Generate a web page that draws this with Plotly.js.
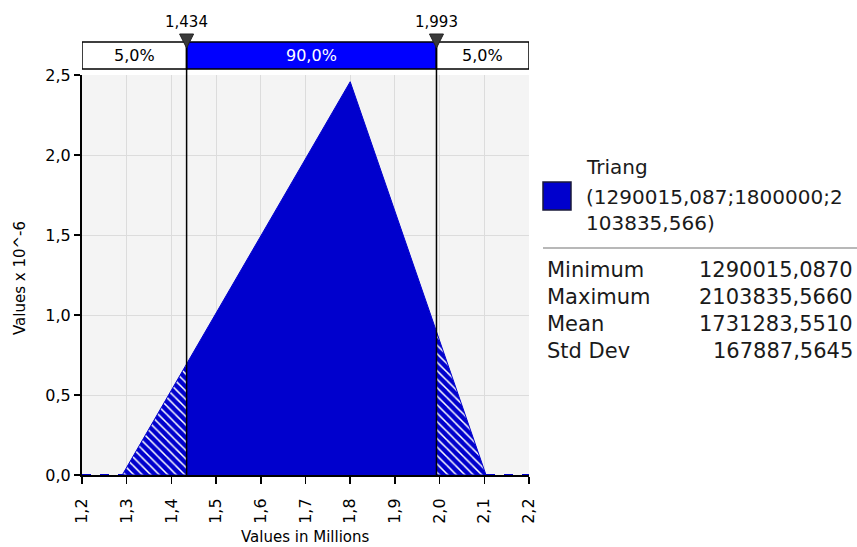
<!DOCTYPE html>
<html>
<head>
<meta charset="utf-8">
<script src="https://cdn.plot.ly/plotly-3.0.1.min.js"></script>
<style>
  html, body { margin: 0; padding: 0; background: #ffffff; }
  #plot { width: 857px; height: 547px; }
</style>
</head>
<body>
<div id="plot"></div>
<script>
// Triangular density (values x 10^-6), x in millions
const pdfX = [1.2, 1.290015, 1.8, 2.103836, 2.2];
const pdfY = [0, 0, 2.458, 0, 0];

// Cut points of the 5% / 90% / 5% band and density at them
const cutX = [1.434, 1.993];
const cutY = [0.694, 0.896];
const bandLabels = ['5,0%', '90,0%', '5,0%'];

// Legend and statistics panel
const legendLines = ['Triang', '(1290015,087;1800000;2', '103835,566)'];
const statNames = ['Minimum', 'Maximum', 'Mean', 'Std Dev'];
const statValues = ['1290015,0870', '2103835,5660', '1731283,5510', '167887,5645'];

const FONT = 'DejaVu Sans, Verdana, sans-serif';
const FILL = '#0000cd';

// plot area in pixels, used to place the panel pieces
const L = 82, R = 529, T = 75, B = 475;
const px = v => (v - L) / (R - L);
const py = v => (B - v) / (B - T);

const a = pdfX[1], c = pdfX[2], b = pdfX[3];
const hatch = { shape: '\\', bgcolor: FILL, fgcolor: '#ffffff', size: 6, solidity: 0.25 };

const traces = [
    // left tail (hatched)
    {
        x: [a, cutX[0], cutX[0], a], y: [0, cutY[0], 0, 0],
        mode: 'lines', fill: 'toself', fillcolor: FILL, fillpattern: hatch,
        line: { color: FILL, width: 1 }, hoverinfo: 'skip', showlegend: false
    },
    // central 90%
    {
        x: [cutX[0], cutX[0], c, cutX[1], cutX[1], cutX[0]],
        y: [0, cutY[0], pdfY[2], cutY[1], 0, 0],
        mode: 'lines', fill: 'toself', fillcolor: FILL,
        line: { color: FILL, width: 1 }, hoverinfo: 'skip', showlegend: false
    },
    // right tail (hatched)
    {
        x: [cutX[1], cutX[1], b, cutX[1]], y: [0, cutY[1], 0, 0],
        mode: 'lines', fill: 'toself', fillcolor: FILL, fillpattern: hatch,
        line: { color: FILL, width: 1 }, hoverinfo: 'skip', showlegend: false
    },
    // zero density outside support
    {
        x: [pdfX[0], pdfX[1]], y: [pdfY[0], pdfY[1]],
        mode: 'lines', line: { color: FILL, width: 2, dash: 'dash' }, showlegend: false
    },
    {
        x: [pdfX[3], pdfX[4]], y: [pdfY[3], pdfY[4]],
        mode: 'lines', line: { color: FILL, width: 2, dash: 'dash' }, showlegend: false
    }
];

const shapes = [];
const annotations = [];

function label(xref, x, y, text, opts) {
    annotations.push(Object.assign({
        xref: xref, yref: 'paper', x: x, y: y, text: text, showarrow: false,
        xanchor: 'center', yanchor: 'middle'
    }, opts));
}

// band on top
const bandEdges = [pdfX[0], cutX[0], cutX[1], pdfX[4]];
for (let i = 0; i < 3; i++) {
    shapes.push({
        type: 'rect', xref: 'x', yref: 'paper',
        x0: bandEdges[i], x1: bandEdges[i + 1], y0: py(69), y1: py(42),
        fillcolor: i === 1 ? '#0000ff' : '#ffffff',
        line: { color: '#000000', width: 1.5 }
    });
    label('x', (bandEdges[i] + bandEdges[i + 1]) / 2, py(56), bandLabels[i],
        { font: { family: FONT, size: 16, color: i === 1 ? '#ffffff' : '#000000' } });
}

// cut lines, markers and labels
cutX.forEach(v => {
    shapes.push({
        type: 'line', xref: 'x', yref: 'paper', x0: v, x1: v, y0: 0, y1: py(42),
        line: { color: '#000000', width: 1.5 }
    });
    shapes.push({
        type: 'path', xref: 'x', yref: 'paper',
        xsizemode: 'pixel', ysizemode: 'pixel', xanchor: v, yanchor: py(48),
        path: 'M-7,14 L7,14 L0,0 Z',
        fillcolor: '#3a3a3a', line: { color: '#222222', width: 1 }
    });
    label('x', v, py(22), v.toFixed(3).replace('.', ','),
        { font: { family: FONT, size: 15, color: '#000000' } });
});

// axis titles
label('paper', px(20), py(278), 'Values x 10^-6',
    { textangle: -90, font: { family: FONT, size: 15, color: '#000000' } });
label('paper', 0.5, py(537), 'Values in Millions',
    { font: { family: FONT, size: 15, color: '#000000' } });

// legend panel
shapes.push({
    type: 'rect', xref: 'paper', yref: 'paper',
    x0: px(543), x1: px(571), y0: py(210), y1: py(182),
    fillcolor: FILL, line: { color: '#1a1a3a', width: 1.5 }
});
const legendY = [167, 197, 223];
legendLines.forEach((t, i) => {
    label('paper', px(584), py(legendY[i]), t,
        { xanchor: 'left', font: { family: FONT, size: 20, color: '#1a1a1a' } });
});
shapes.push({
    type: 'line', xref: 'paper', yref: 'paper',
    x0: px(543), x1: px(857), y0: py(248), y1: py(248),
    line: { color: '#a0a0a0', width: 1.5 }
});
const statY = [270, 297, 324, 351];
statNames.forEach((n, i) => {
    label('paper', px(545), py(statY[i]), n,
        { xanchor: 'left', font: { family: FONT, size: 21, color: '#1a1a1a' } });
    label('paper', px(855), py(statY[i]), statValues[i],
        { xanchor: 'right', font: { family: FONT, size: 21, color: '#1a1a1a' } });
});

const layout = {
    width: 857, height: 547,
    margin: { l: L, r: 857 - R, t: T, b: 547 - B, pad: 0 },
    paper_bgcolor: '#ffffff',
    plot_bgcolor: '#f4f4f4',
    separators: ',.',
    showlegend: false,
    font: { family: FONT, size: 16, color: '#000000' },
    xaxis: {
        range: [pdfX[0], pdfX[4]], dtick: 0.1, tick0: 1.2, tickformat: '.1f',
        tickangle: -90, ticks: 'outside', ticklen: 7, tickwidth: 1.5, tickcolor: '#000000',
        ticklabelstandoff: 8,
        showline: true, linecolor: '#000000', linewidth: 2,
        showgrid: true, gridcolor: '#dcdcdc', gridwidth: 1, zeroline: false,
        tickfont: { family: FONT, size: 16 }, fixedrange: true
    },
    yaxis: {
        range: [0, 2.5], dtick: 0.5, tickformat: '.1f',
        ticks: 'outside', ticklen: 6, tickwidth: 1.5, tickcolor: '#000000',
        showline: true, linecolor: '#000000', linewidth: 2,
        showgrid: true, gridcolor: '#dcdcdc', gridwidth: 1, zeroline: false,
        tickfont: { family: FONT, size: 16 }, fixedrange: true
    },
    shapes: shapes,
    annotations: annotations
};

Plotly.newPlot('plot', traces, layout, { displayModeBar: false, staticPlot: true });
</script>
</body>
</html>
